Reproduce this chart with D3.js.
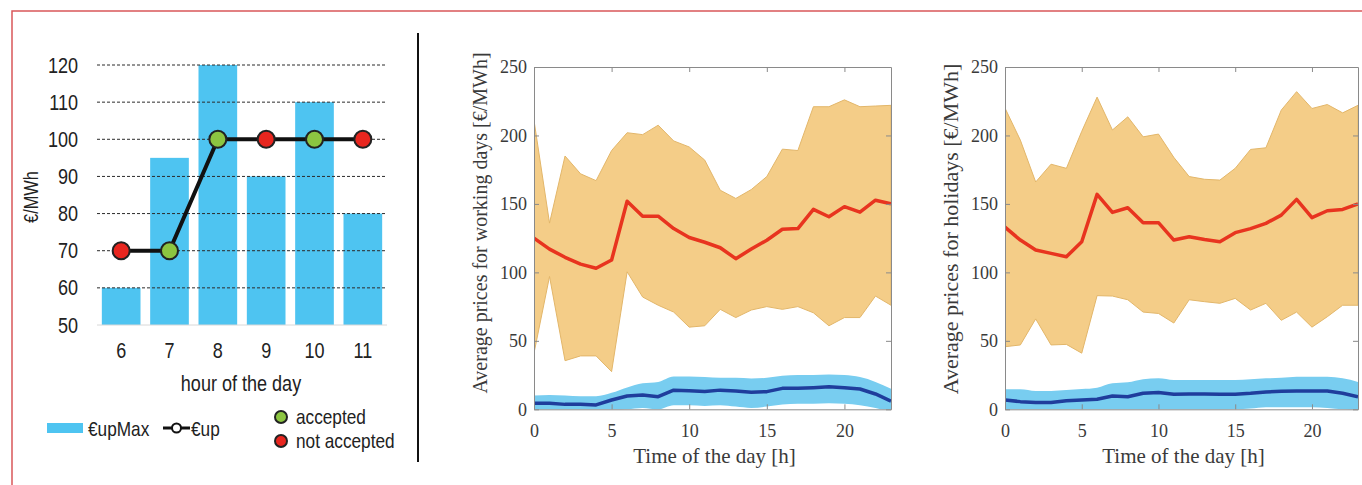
<!DOCTYPE html>
<html>
<head>
<meta charset="utf-8">
<script src="https://cdn.jsdelivr.net/npm/d3@7"></script>
<style>
  html, body { margin: 0; padding: 0; background: #fff; }
  svg { display: block; }
  .narrow { font-family: "Liberation Sans", Arial, sans-serif; }
  .serif { font-family: "Liberation Serif", "Times New Roman", serif; }
</style>
</head>
<body>
<svg id="chart" width="1362" height="485"></svg>
<script>
// ---- Bid example: hourly maximum upward price vs. offered price ----
const hours = [6, 7, 8, 9, 10, 11];
const upMax = [60, 95, 120, 90, 110, 80];
const upOffer = [70, 70, 100, 100, 100, 100];
const accepted = [false, true, true, false, true, false];
const barTicks = [50, 60, 70, 80, 90, 100, 110, 120];

// ---- Hourly price statistics (0..23 h) ----
const timeOfDay = d3.range(24);
const timeTicks = [0, 5, 10, 15, 20];
const priceTicks = [0, 50, 100, 150, 200, 250];

// working days
const wdMean = [125, 117, 111, 106, 103, 109, 152, 141, 141, 132, 125.5, 122, 118, 110, 117, 123.5, 131.5, 132, 146, 140.6, 148, 144, 152.7, 150];
const wdHigh = [211, 136, 185, 172, 167, 189, 202, 200.6, 207.5, 196, 191.6, 182, 160, 154, 160.5, 170, 190, 189, 221, 221, 226, 221, 221.5, 222];
const wdLow = [41, 97, 35.5, 39, 39, 27.5, 100.4, 82, 76, 71, 60, 61, 73, 67, 72.5, 75, 73, 75, 70.5, 61, 67, 67, 82.7, 76];
const wdUpMean = [4.4, 4.4, 3.6, 3.6, 3.2, 6.8, 9.7, 10.5, 9.2, 14, 13.6, 13, 14, 13.4, 12.4, 12.9, 15.3, 15.3, 15.8, 16.5, 15.8, 14.8, 11.2, 6];
const wdUpHigh = [10, 10.5, 10, 9.5, 9.5, 12, 16, 19, 20, 24, 24, 23.5, 23, 23, 22.5, 23, 24.5, 25, 25, 25.5, 25, 23.5, 20, 15];
const wdUpLow = [-1, -1, -1, -1, -1, -1, 0, 1, 0, 3, 3, 2.5, 3, 2, 1, 2, 3.5, 4, 4, 4.5, 4, 3, 1, -2];

// holidays
const hdMean = [133, 123.6, 116.3, 113.9, 111.4, 122.4, 157, 143.8, 147.2, 136.3, 136.3, 123.6, 126, 124, 122.4, 129, 132, 135.8, 141.8, 153.3, 140, 145, 146, 150];
const hdHigh = [220, 196.6, 166, 179, 176, 203, 228, 204, 213.6, 199, 201, 184, 170, 168, 167.4, 176, 189.8, 191, 218.5, 232, 219.7, 222.6, 216.5, 222];
const hdLow = [45.7, 47, 66, 47, 47.4, 41, 83, 82.7, 80, 71, 70, 63, 80, 78.6, 77.4, 81, 72.5, 77.4, 65, 71, 60, 67.6, 76, 76];
const hdUpMean = [6.8, 5.6, 4.9, 4.9, 6.3, 6.8, 7.3, 9.7, 9.2, 11.7, 12.2, 11, 11.2, 11.2, 11, 11, 11.7, 12.7, 13.1, 13.4, 13.4, 13.4, 11.7, 9.2];
const hdUpHigh = [14.6, 14.6, 13.4, 13.4, 14.1, 14.8, 15.8, 19, 19.7, 22, 22.6, 21.4, 21.4, 21.4, 21.4, 21.4, 21.9, 22.6, 23, 23.8, 23.8, 23.8, 22.6, 20];
const hdUpLow = [-1, -1, -1, -1, -1, -1, -1, -1, -1, -1, -0.5, -0.5, -0.5, -0.5, -0.5, 0, 0.5, 1.5, 1.5, 1.5, 1.5, 1, 0, -1];

const svg = d3.select("#chart");
const sansFont = "\"Liberation Sans\", Arial, sans-serif";

// page frame
svg.append("path")
  .attr("d", "M12,485 V11 H1362")
  .attr("fill", "none")
  .attr("stroke", "#d9575a")
  .attr("stroke-width", 1.5);

// divider between the two parts
svg.append("line")
  .attr("x1", 418).attr("x2", 418).attr("y1", 33).attr("y2", 462)
  .attr("stroke", "#111").attr("stroke-width", 2);

// ================= Left: bar + line chart =================
const left = svg.append("g").attr("class", "narrow");
{
  const x = d3.scaleBand().domain(hours).range([97, 387]).paddingInner(0.2).paddingOuter(0.1);
  const y = d3.scaleLinear().domain([50, 120]).range([325, 65]);
  const g = left;

  g.selectAll("rect.bar").data(hours).join("rect")
    .attr("class", "bar")
    .attr("x", d => x(d))
    .attr("width", x.bandwidth())
    .attr("y", (d, i) => y(upMax[i]))
    .attr("height", (d, i) => y(50) - y(upMax[i]))
    .attr("fill", "#4ec4f1");

  // horizontal grid
  g.selectAll("line.grid").data(barTicks).join("line")
    .attr("class", "grid")
    .attr("x1", 97).attr("x2", 387)
    .attr("y1", d => y(d)).attr("y2", d => y(d))
    .attr("stroke", d => d === 50 ? "#d8d8d8" : "#2b2b2b")
    .attr("stroke-width", 1)
    .attr("stroke-dasharray", d => d === 50 ? null : "3,2");

  const yAxis = g.append("g")
    .attr("transform", "translate(97,0)")
    .call(d3.axisLeft(y).tickValues(barTicks).tickSize(0).tickPadding(19));
  yAxis.select(".domain").remove();
  yAxis.selectAll("text").attr("font-size", 22).attr("fill", "#222").attr("font-family", sansFont);

  const xAxis = g.append("g")
    .attr("transform", "translate(0,325)")
    .call(d3.axisBottom(x).tickSize(0).tickPadding(17));
  xAxis.select(".domain").remove();
  xAxis.selectAll("text").attr("font-size", 22).attr("fill", "#222").attr("font-family", sansFont);

  g.append("text")
    .attr("transform", "translate(31,197) rotate(-90)")
    .attr("text-anchor", "middle").attr("dominant-baseline", "central")
    .attr("font-size", 20).attr("fill", "#222")
    .text("€/MWh");

  g.append("text")
    .attr("x", 241).attr("y", 383)
    .attr("text-anchor", "middle").attr("dominant-baseline", "central")
    .attr("font-size", 22).attr("fill", "#222")
    .text("hour of the day");

  const cx = d => x(d) + x.bandwidth() / 2;
  g.append("path")
    .datum(hours)
    .attr("d", d3.line().x(d => cx(d)).y((d, i) => y(upOffer[i])))
    .attr("fill", "none").attr("stroke", "#111").attr("stroke-width", 4);

  g.selectAll("circle.mk").data(hours).join("circle")
    .attr("class", "mk")
    .attr("cx", d => cx(d))
    .attr("cy", (d, i) => y(upOffer[i]))
    .attr("r", 8.5)
    .attr("fill", (d, i) => accepted[i] ? "#8cc541" : "#e8261f")
    .attr("stroke", "#222").attr("stroke-width", 2);

  // legend
  const lg = g.append("g");
  lg.append("rect").attr("x", 47).attr("y", 423).attr("width", 36).attr("height", 10).attr("fill", "#4ec4f1");
  lg.append("text").attr("x", 88).attr("y", 428).attr("dominant-baseline", "central")
    .attr("font-size", 21).attr("fill", "#222").text("€upMax");
  lg.append("line").attr("x1", 163).attr("x2", 190).attr("y1", 428).attr("y2", 428)
    .attr("stroke", "#111").attr("stroke-width", 3);
  lg.append("circle").attr("cx", 176.5).attr("cy", 428).attr("r", 4.5)
    .attr("fill", "#fff").attr("stroke", "#111").attr("stroke-width", 2);
  lg.append("text").attr("x", 191).attr("y", 428).attr("dominant-baseline", "central")
    .attr("font-size", 21).attr("fill", "#222").text("€up");
  lg.append("circle").attr("cx", 281).attr("cy", 417).attr("r", 6)
    .attr("fill", "#8cc541").attr("stroke", "#222").attr("stroke-width", 2);
  lg.append("text").attr("x", 296).attr("y", 416).attr("dominant-baseline", "central")
    .attr("font-size", 21).attr("fill", "#222").text("accepted");
  lg.append("circle").attr("cx", 281).attr("cy", 441).attr("r", 6)
    .attr("fill", "#e8261f").attr("stroke", "#222").attr("stroke-width", 2);
  lg.append("text").attr("x", 296).attr("y", 440).attr("dominant-baseline", "central")
    .attr("font-size", 21).attr("fill", "#222").text("not accepted");
}

// condensed look for the sans labels of the bar chart
left.selectAll("text").each(function () {
  const len = this.getComputedTextLength();
  if (len > 0) {
    d3.select(this).attr("textLength", (len * 0.82).toFixed(2)).attr("lengthAdjust", "spacingAndGlyphs");
  }
});

// ================= Right: two price band panels =================
function pricePanel(id, left, right, yLabel, yLabelSize, yLabelX, yLabelY, mean, high, low, upMean, upHigh, upLow) {
  const top = 67, bottom = 409.3;
  const x = d3.scaleLinear().domain([0, 23]).range([left, right]);
  const y = d3.scaleLinear().domain([0, 250]).range([bottom, top]);
  const g = svg.append("g").attr("class", "serif");

  g.append("clipPath").attr("id", id)
    .append("rect").attr("x", left).attr("y", top).attr("width", right - left).attr("height", bottom - top);
  const plot = g.append("g").attr("clip-path", `url(#${id})`);

  plot.append("path").datum(timeOfDay)
    .attr("d", d3.area().x(d => x(d)).y0(d => y(low[d])).y1(d => y(high[d])))
    .attr("fill", "#f4cd88").attr("stroke", "#e2b66a").attr("stroke-width", 1);
  plot.append("path").datum(timeOfDay)
    .attr("d", d3.line().x(d => x(d)).y(d => y(mean[d])))
    .attr("fill", "none").attr("stroke", "#e8341f").attr("stroke-width", 3.5)
    .attr("stroke-linejoin", "round");
  plot.append("path").datum(timeOfDay)
    .attr("d", d3.area().curve(d3.curveMonotoneX).x(d => x(d)).y0(d => y(upLow[d])).y1(d => y(upHigh[d])))
    .attr("fill", "#78cdf0");
  plot.append("path").datum(timeOfDay)
    .attr("d", d3.line().x(d => x(d)).y(d => y(upMean[d])))
    .attr("fill", "none").attr("stroke", "#1f3d9c").attr("stroke-width", 3.5)
    .attr("stroke-linejoin", "round");

  const axisColor = "#8a8a8a";
  const style = sel => {
    sel.select(".domain").attr("stroke", axisColor);
    sel.selectAll(".tick line").attr("stroke", axisColor);
    sel.selectAll("text").attr("font-size", 18).attr("fill", "#3a3a3a")
      .attr("font-family", "\"Liberation Serif\", \"Times New Roman\", serif");
  };
  g.append("g").attr("transform", `translate(0,${bottom})`)
    .call(d3.axisBottom(x).tickValues(timeTicks).tickSizeInner(-5).tickSizeOuter(0).tickPadding(15)).call(style);
  g.append("g").attr("transform", `translate(0,${top})`)
    .call(d3.axisTop(x).tickValues(timeTicks).tickSizeInner(-5).tickSizeOuter(0).tickFormat("")).call(style);
  g.append("g").attr("transform", `translate(${left},0)`)
    .call(d3.axisLeft(y).tickValues(priceTicks).tickSizeInner(-5).tickSizeOuter(0).tickPadding(7)).call(style);
  g.append("g").attr("transform", `translate(${right},0)`)
    .call(d3.axisRight(y).tickValues(priceTicks).tickSizeInner(-5).tickSizeOuter(0).tickFormat("")).call(style);

  g.append("text")
    .attr("x", (left + right) / 2 + 2).attr("y", 456)
    .attr("text-anchor", "middle").attr("dominant-baseline", "central")
    .attr("font-size", 21).attr("fill", "#3a3a3a")
    .text("Time of the day [h]");
  g.append("text")
    .attr("transform", `translate(${yLabelX},${yLabelY}) rotate(-90)`)
    .attr("text-anchor", "middle").attr("dominant-baseline", "central")
    .attr("font-size", yLabelSize).attr("fill", "#3a3a3a")
    .text(yLabel);
}

pricePanel("clipWd", 534, 891, "Average prices for working days [€/MWh]", 20, 480, 223,
  wdMean, wdHigh, wdLow, wdUpMean, wdUpHigh, wdUpLow);
pricePanel("clipHd", 1005, 1358, "Average prices for holidays [€/MWh]", 22, 950, 229,
  hdMean, hdHigh, hdLow, hdUpMean, hdUpHigh, hdUpLow);
</script>
</body>
</html>
